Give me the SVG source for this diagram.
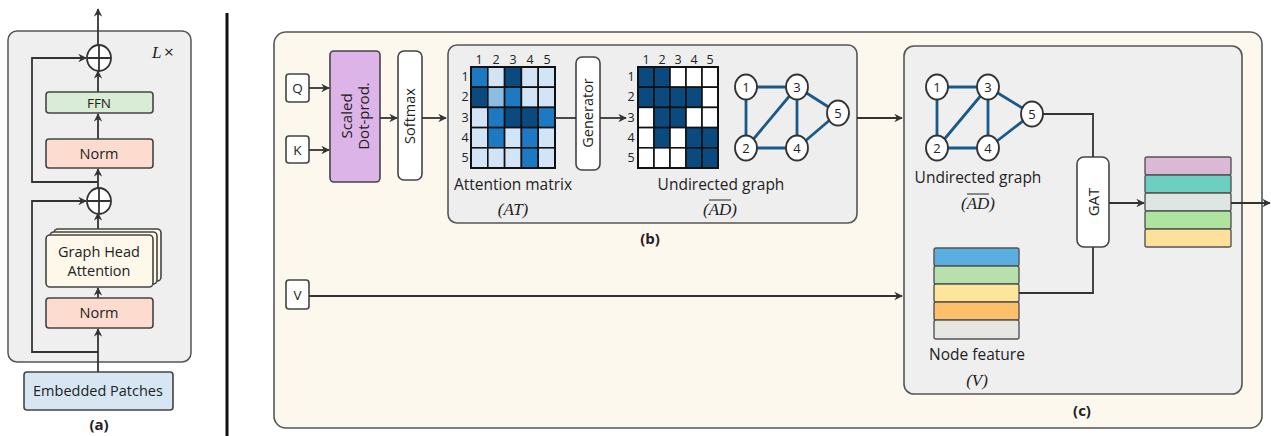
<svg xmlns="http://www.w3.org/2000/svg" width="1271" height="436" viewBox="0 0 1271 436">
<style>
text{font-family:"Open Sans","Liberation Sans",sans-serif;fill:#222}
.box{stroke:#444;stroke-width:1.6}
.ln{fill:none;stroke:#333;stroke-width:1.8}
.ar{fill:none;stroke:#333;stroke-width:1.8;marker-end:url(#ah)}
.m{font-family:"Liberation Serif",serif;font-style:italic;font-size:17px}
.lab{font-size:15.5px;text-anchor:middle}
.num{font-size:12.5px;text-anchor:middle}
.cell{stroke:#111;stroke-width:1.6}
.D{fill:#0b4a7f}.M{fill:#1d79c2}.L{fill:#d2e4f5}.ML{fill:#8bbde3}.W{fill:#ffffff}
.ge{stroke:#1a5a8a;stroke-width:2.8;fill:none}
.gn{fill:#fff;stroke:#333;stroke-width:1.8}
</style>
<defs>
<marker id="ah" viewBox="0 0 10 10" refX="9" refY="5" markerWidth="8.5" markerHeight="8.5" markerUnits="userSpaceOnUse" orient="auto">
<path d="M0,0 L10,5 L0,10 L3,5 z" fill="#333"/>
</marker>
</defs>

<!-- Panel (a) -->
<g id="panel-a">
<rect x="8" y="31" width="183" height="331" rx="9" fill="#efefef" stroke="#555" stroke-width="1.5"/>
<text x="152" y="58" class="m">L</text>
<text x="164" y="58" font-size="17">×</text>
</g>
<g id="a-connectors">
<path class="ar" d="M98,372 V329"/>
<path class="ar" d="M98,298 V288"/>
<path class="ar" d="M98,231 V213"/>
<path class="ar" d="M98,188 V169"/>
<path class="ar" d="M98,139 V114"/>
<path class="ar" d="M98,92 V71"/>
<path class="ar" d="M98,45 V9"/>
<path class="ar" d="M98,352 H32 V201 H86"/>
<path class="ar" d="M98,182 H32 V58 H86"/>
</g>
<g id="a-plus-top">
<ellipse cx="99" cy="58" rx="12" ry="13" fill="#fff" stroke="#333" stroke-width="1.8"/>
<path class="ln" d="M87,58 H111 M99,45 V71"/>
</g>
<g id="a-plus-bottom">
<ellipse cx="99" cy="201" rx="12" ry="13" fill="#fff" stroke="#333" stroke-width="1.8"/>
<path class="ln" d="M87,201 H111 M99,188 V214"/>
</g>
<g id="a-ffn">
<rect x="46" y="92" width="107" height="21" rx="3" fill="#d9ecd5" class="box"/>
<text x="99" y="108" font-size="13.5" text-anchor="middle">FFN</text>
</g>
<g id="a-norm-top">
<rect x="46" y="139" width="107" height="29" rx="3" fill="#fbdccf" class="box"/>
<text x="99" y="159" font-size="14.5" text-anchor="middle">Norm</text>
</g>
<g id="a-gha">
<rect x="54" y="229" width="107" height="52" rx="4" fill="#fdf8ea" class="box"/>
<rect x="50" y="232" width="107" height="52" rx="4" fill="#fdf8ea" class="box"/>
<rect x="46" y="235" width="107" height="52" rx="4" fill="#fdf8ea" class="box"/>
<text x="99" y="257" font-size="14.5" text-anchor="middle">Graph Head</text>
<text x="99" y="276" font-size="14.5" text-anchor="middle">Attention</text>
</g>
<g id="a-norm-bottom">
<rect x="46" y="298" width="107" height="30" rx="3" fill="#fbdccf" class="box"/>
<text x="99" y="318" font-size="14.5" text-anchor="middle">Norm</text>
</g>
<g id="a-embed">
<rect x="24" y="372" width="149" height="38" rx="3" fill="#d6e6f2" class="box"/>
<text x="98" y="396" font-size="14.5" text-anchor="middle">Embedded Patches</text>
</g>
<text x="99" y="430" font-size="15" font-weight="bold" text-anchor="middle">(a)</text>
<line x1="227" y1="13" x2="227" y2="436" stroke="#111" stroke-width="3"/>

<!-- Panel b/c background -->
<g id="outer">
<rect x="274" y="32" width="988" height="396" rx="12" fill="#fdf8ee" stroke="#555" stroke-width="1.6"/>
</g>
<g id="q"><rect x="286" y="74" width="23" height="28" rx="3" fill="#fff" class="box"/><text x="297.5" y="93" font-size="13.5" text-anchor="middle">Q</text></g>
<g id="k"><rect x="286" y="136" width="23" height="27" rx="3" fill="#fff" class="box"/><text x="297.5" y="155" font-size="13.5" text-anchor="middle">K</text></g>
<g id="v"><rect x="286" y="280" width="23" height="29" rx="3" fill="#fff" class="box"/><text x="297.5" y="300" font-size="13.5" text-anchor="middle">V</text></g>
<g id="scaled">
<rect x="330" y="51" width="50" height="131" rx="4" fill="#ddb4e8" class="box"/>
<g transform="translate(355,116) rotate(-90)"><text x="0" y="-3" font-size="15" text-anchor="middle">Scaled</text><text x="0" y="14" font-size="15" text-anchor="middle">Dot-prod.</text></g>
</g>
<g id="softmax">
<rect x="398" y="51" width="24" height="129" rx="6" fill="#fff" class="box"/>
<g transform="translate(410,116) rotate(-90)"><text x="0" y="5" font-size="14.5" text-anchor="middle">Softmax</text></g>
</g>

<g id="panel-b">
<rect x="448" y="45" width="409" height="178" rx="9" fill="#eeeeee" stroke="#555" stroke-width="1.6"/>
<text x="513" y="190" class="lab">Attention matrix</text>
<text x="513" y="215" class="m" text-anchor="middle">(AT)</text>
<text x="721" y="190" class="lab">Undirected graph</text>
<text x="720" y="215" class="m" text-anchor="middle">(AD)</text>
<line x1="709" y1="200" x2="731" y2="200" stroke="#222" stroke-width="1"/>
<text x="650" y="244" font-size="15" font-weight="bold" text-anchor="middle">(b)</text>
</g>
<g id="matrix-at">
<g class="num"><text x="479" y="64">1</text><text x="496" y="64">2</text><text x="513" y="64">3</text><text x="530" y="64">4</text><text x="547" y="64">5</text>
<text x="465" y="81">1</text><text x="465" y="101">2</text><text x="465" y="122">3</text><text x="465" y="142">4</text><text x="465" y="162">5</text></g>
<rect class="cell M" x="471" y="67" width="16.8" height="20.2"/><rect class="cell L" x="487.8" y="67" width="16.8" height="20.2"/><rect class="cell D" x="504.6" y="67" width="16.8" height="20.2"/><rect class="cell L" x="521.4" y="67" width="16.8" height="20.2"/><rect class="cell L" x="538.2" y="67" width="16.8" height="20.2"/>
<rect class="cell D" x="471" y="87.2" width="16.8" height="20.2"/><rect class="cell ML" x="487.8" y="87.2" width="16.8" height="20.2"/><rect class="cell M" x="504.6" y="87.2" width="16.8" height="20.2"/><rect class="cell L" x="521.4" y="87.2" width="16.8" height="20.2"/><rect class="cell L" x="538.2" y="87.2" width="16.8" height="20.2"/>
<rect class="cell L" x="471" y="107.4" width="16.8" height="20.2"/><rect class="cell M" x="487.8" y="107.4" width="16.8" height="20.2"/><rect class="cell D" x="504.6" y="107.4" width="16.8" height="20.2"/><rect class="cell D" x="521.4" y="107.4" width="16.8" height="20.2"/><rect class="cell M" x="538.2" y="107.4" width="16.8" height="20.2"/>
<rect class="cell L" x="471" y="127.6" width="16.8" height="20.2"/><rect class="cell M" x="487.8" y="127.6" width="16.8" height="20.2"/><rect class="cell L" x="504.6" y="127.6" width="16.8" height="20.2"/><rect class="cell M" x="521.4" y="127.6" width="16.8" height="20.2"/><rect class="cell L" x="538.2" y="127.6" width="16.8" height="20.2"/>
<rect class="cell L" x="471" y="147.8" width="16.8" height="20.2"/><rect class="cell L" x="487.8" y="147.8" width="16.8" height="20.2"/><rect class="cell L" x="504.6" y="147.8" width="16.8" height="20.2"/><rect class="cell M" x="521.4" y="147.8" width="16.8" height="20.2"/><rect class="cell L" x="538.2" y="147.8" width="16.8" height="20.2"/>
<rect x="471" y="67" width="84" height="101" fill="none" stroke="#111" stroke-width="2"/>
</g>
<g id="generator">
<rect x="576" y="57" width="24" height="113" rx="6" fill="#fff" class="box"/>
<g transform="translate(588,113) rotate(-90)"><text x="0" y="5" font-size="14.5" text-anchor="middle">Generator</text></g>
</g>
<g id="matrix-ad">
<g class="num"><text x="646" y="64">1</text><text x="662" y="64">2</text><text x="678" y="64">3</text><text x="694" y="64">4</text><text x="710" y="64">5</text>
<text x="631" y="81">1</text><text x="631" y="101">2</text><text x="631" y="122">3</text><text x="631" y="142">4</text><text x="631" y="162">5</text></g>
<rect class="cell D" x="638" y="67" width="16" height="20.2"/><rect class="cell D" x="654" y="67" width="16" height="20.2"/><rect class="cell W" x="670" y="67" width="16" height="20.2"/><rect class="cell W" x="686" y="67" width="16" height="20.2"/><rect class="cell W" x="702" y="67" width="16" height="20.2"/>
<rect class="cell D" x="638" y="87.2" width="16" height="20.2"/><rect class="cell D" x="654" y="87.2" width="16" height="20.2"/><rect class="cell D" x="670" y="87.2" width="16" height="20.2"/><rect class="cell D" x="686" y="87.2" width="16" height="20.2"/><rect class="cell W" x="702" y="87.2" width="16" height="20.2"/>
<rect class="cell W" x="638" y="107.4" width="16" height="20.2"/><rect class="cell D" x="654" y="107.4" width="16" height="20.2"/><rect class="cell D" x="670" y="107.4" width="16" height="20.2"/><rect class="cell W" x="686" y="107.4" width="16" height="20.2"/><rect class="cell W" x="702" y="107.4" width="16" height="20.2"/>
<rect class="cell W" x="638" y="127.6" width="16" height="20.2"/><rect class="cell D" x="654" y="127.6" width="16" height="20.2"/><rect class="cell W" x="670" y="127.6" width="16" height="20.2"/><rect class="cell D" x="686" y="127.6" width="16" height="20.2"/><rect class="cell D" x="702" y="127.6" width="16" height="20.2"/>
<rect class="cell W" x="638" y="147.8" width="16" height="20.2"/><rect class="cell W" x="654" y="147.8" width="16" height="20.2"/><rect class="cell W" x="670" y="147.8" width="16" height="20.2"/><rect class="cell D" x="686" y="147.8" width="16" height="20.2"/><rect class="cell D" x="702" y="147.8" width="16" height="20.2"/>
<rect x="638" y="67" width="80" height="101" fill="none" stroke="#111" stroke-width="2"/>
</g>
<g id="graph-b">
<path class="ge" d="M746,87 H797 M746,87 V148 M746,148 L797,87 M746,148 H797 M797,87 V148 M797,87 L838,113 M797,148 L838,113"/>
<ellipse class="gn" cx="746" cy="87" rx="11" ry="12.5"/><text x="746" y="92" font-size="13" text-anchor="middle">1</text>
<ellipse class="gn" cx="797" cy="87" rx="11" ry="12.5"/><text x="797" y="92" font-size="13" text-anchor="middle">3</text>
<ellipse class="gn" cx="838" cy="113" rx="11" ry="12.5"/><text x="838" y="118" font-size="13" text-anchor="middle">5</text>
<ellipse class="gn" cx="746" cy="148" rx="11" ry="12.5"/><text x="746" y="153" font-size="13" text-anchor="middle">2</text>
<ellipse class="gn" cx="797" cy="148" rx="11" ry="12.5"/><text x="797" y="153" font-size="13" text-anchor="middle">4</text>
</g>

<g id="panel-c">
<rect x="904" y="46" width="338" height="348" rx="10" fill="#efefef" stroke="#555" stroke-width="1.6"/>
<text x="978" y="183" class="lab">Undirected graph</text>
<text x="978" y="209" class="m" text-anchor="middle">(AD)</text>
<line x1="967" y1="194" x2="989" y2="194" stroke="#222" stroke-width="1"/>
<text x="977" y="360" class="lab">Node feature</text>
<text x="977" y="386" class="m" text-anchor="middle">(V)</text>
<text x="1082" y="416" font-size="15" font-weight="bold" text-anchor="middle">(c)</text>
</g>
<g id="graph-c">
<path class="ge" d="M937,87 H988 M937,87 V148 M937,148 L988,87 M937,148 H988 M988,87 V148 M988,87 L1032,114 M988,148 L1032,114"/>
<ellipse class="gn" cx="937" cy="87" rx="11" ry="12.5"/><text x="937" y="92" font-size="13" text-anchor="middle">1</text>
<ellipse class="gn" cx="988" cy="87" rx="11" ry="12.5"/><text x="988" y="92" font-size="13" text-anchor="middle">3</text>
<ellipse class="gn" cx="1032" cy="114" rx="11" ry="12.5"/><text x="1032" y="119" font-size="13" text-anchor="middle">5</text>
<ellipse class="gn" cx="937" cy="148" rx="11" ry="12.5"/><text x="937" y="153" font-size="13" text-anchor="middle">2</text>
<ellipse class="gn" cx="988" cy="148" rx="11" ry="12.5"/><text x="988" y="153" font-size="13" text-anchor="middle">4</text>
</g>
<g id="gat">
<rect x="1077" y="157" width="32" height="90" rx="7" fill="#fff" class="box"/>
<g transform="translate(1093,202) rotate(-90)"><text x="0" y="6" font-size="15" text-anchor="middle">GAT</text></g>
</g>
<g id="output-stack" stroke="#555" stroke-width="1.4">
<rect x="1145" y="157" width="86" height="18" rx="2" fill="#dbb8d6"/>
<rect x="1145" y="175" width="86" height="18" rx="2" fill="#6dcfc0"/>
<rect x="1145" y="193" width="86" height="18" rx="2" fill="#dde6e3"/>
<rect x="1145" y="211" width="86" height="18" rx="2" fill="#aee3a0"/>
<rect x="1145" y="229" width="86" height="18" rx="2" fill="#fde19a"/>
</g>
<g id="node-feature" stroke="#555" stroke-width="1.4">
<rect x="934" y="248" width="85" height="18" rx="2" fill="#5aafe0"/>
<rect x="934" y="266" width="85" height="18" rx="2" fill="#b8e0ac"/>
<rect x="934" y="284" width="85" height="18" rx="2" fill="#fde59c"/>
<rect x="934" y="302" width="85" height="18" rx="2" fill="#fdbf6a"/>
<rect x="934" y="320" width="85" height="19" rx="2" fill="#e6e6e2"/>
</g>

<g id="connectors">
<path class="ar" d="M309,88 H329"/>
<path class="ar" d="M309,150 H329"/>
<path class="ar" d="M380,118 H397"/>
<path class="ar" d="M422,118 H446"/>
<path class="ln" d="M555,118 H576"/>
<path class="ar" d="M600,118 H626"/>
<path class="ar" d="M857,118 H902"/>
<path class="ar" d="M309,296 H902"/>
<path class="ln" d="M1043,114 H1093 V157"/>
<path class="ln" d="M1093,247 V293 H1019"/>
<path class="ar" d="M1109,203 H1144"/>
<path class="ar" d="M1231,203 H1270"/>
</g>
</svg>
